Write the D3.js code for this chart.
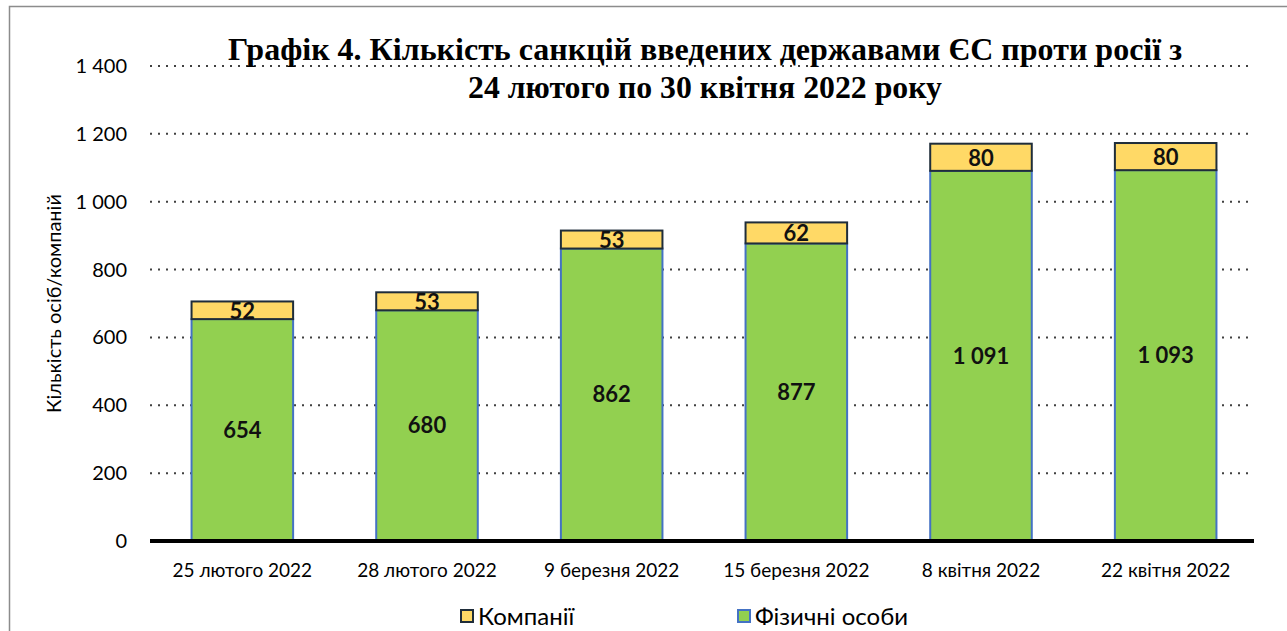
<!DOCTYPE html>
<html>
<head>
<meta charset="utf-8">
<script src="https://cdn.jsdelivr.net/npm/d3@7"></script>
<style>
  body { margin: 0; background: #fff; }
  #chart { width: 1287px; height: 631px; }
</style>
</head>
<body>
<div id="chart"></div>
<script>
//Дані
const dates = ['25 лютого 2022', '28 лютого 2022', '9 березня 2022', '15 березня 2022', '8 квітня 2022', '22 квітня 2022'];
const persons = [654, 680, 862, 877, 1091, 1093];
const companies = [52, 53, 53, 62, 80, 80];
const yTicks = [0, 200, 400, 600, 800, 1000, 1200, 1400];
const titleLines = ['Графік 4. Кількість санкцій введених державами ЄС проти росії з', '24 лютого по 30 квітня 2022 року'];
const seriesNames = ['Компанії', 'Фізичні особи'];

//Кольори
const COLOR_GREEN = '#92D050', COLOR_YELLOW = '#FFD966',
  STROKE_GREEN = '#4472C4', STROKE_YELLOW = '#1F2D3A';

const W = 1287, H = 631;
const margin = {top: 66, right: 29, bottom: 90, left: 150};
const width = W - margin.left - margin.right,
  height = H - margin.top - margin.bottom;

const fmt = v => d3.format(',')(v).replace(/,/g, ' ');

const svgRoot = d3.select('#chart').append('svg')
  .attr('width', W).attr('height', H);

//Рамка
svgRoot.append('path')
  .attr('d', 'M9.5,' + H + ' V6.5 H' + W)
  .attr('fill', 'none').attr('stroke', '#8c8c8c').attr('stroke-width', 1.5);

const svg = svgRoot.append('g')
  .attr('transform', 'translate(' + margin.left + ',' + margin.top + ')');

const x = d3.scaleBand().domain(dates).range([0, width]).paddingInner(0.45).paddingOuter(0.225);
const y = d3.scaleLinear().domain([0, 1400]).range([height, 0]);

//Сітка
svg.append('g').selectAll('line')
  .data(yTicks.filter(d => d > 0))
  .join('line')
  .attr('x1', 0).attr('x2', width - 4)
  .attr('y1', d => y(d)).attr('y2', d => y(d))
  .attr('stroke', '#404040').attr('stroke-width', 2)
  .attr('stroke-dasharray', '2,6');

//Вісь Y
svg.append('g').selectAll('text')
  .data(yTicks).join('text')
  .attr('x', -23).attr('y', d => y(d))
  .attr('dy', '0.35em').attr('text-anchor', 'end')
  .attr('font-family', 'Lato, sans-serif').attr('font-size', 20)
  .text(d => fmt(d));

svgRoot.append('text')
  .attr('transform', 'translate(61,' + (margin.top + y(700)) + ') rotate(-90)')
  .attr('text-anchor', 'middle')
  .attr('font-family', 'Lato, sans-serif').attr('font-size', 20)
  .text('Кількість осіб/компаній');

//Стовпці
const stackData = dates.map((d, i) => ({date: d, p: persons[i], c: companies[i]}));
const bars = svg.append('g').selectAll('g').data(stackData).join('g');

bars.append('rect')
  .attr('x', d => x(d.date)).attr('width', x.bandwidth())
  .attr('y', d => y(d.p)).attr('height', d => y(0) - y(d.p))
  .attr('fill', COLOR_GREEN).attr('stroke', STROKE_GREEN).attr('stroke-width', 2);

bars.append('rect')
  .attr('x', d => x(d.date)).attr('width', x.bandwidth())
  .attr('y', d => y(d.p + d.c)).attr('height', d => y(d.p) - y(d.p + d.c))
  .attr('fill', COLOR_YELLOW).attr('stroke', STROKE_YELLOW).attr('stroke-width', 2);

bars.append('text')
  .attr('x', d => x(d.date) + x.bandwidth() / 2)
  .attr('y', d => y(d.p / 2))
  .attr('dy', '0.35em').attr('text-anchor', 'middle')
  .attr('font-family', 'Lato, sans-serif').attr('font-weight', 'bold').attr('font-size', 22)
  .attr('fill', '#111').text(d => fmt(d.p));

bars.append('text')
  .attr('x', d => x(d.date) + x.bandwidth() / 2)
  .attr('y', d => y(d.p + d.c / 2))
  .attr('dy', '0.38em').attr('text-anchor', 'middle')
  .attr('font-family', 'Lato, sans-serif').attr('font-weight', 'bold').attr('font-size', 22)
  .attr('fill', '#111').text(d => fmt(d.c));

//Вісь X
svg.append('line')
  .attr('x1', 0).attr('x2', width - 4)
  .attr('y1', y(0)).attr('y2', y(0))
  .attr('stroke', '#000').attr('stroke-width', 4);

svg.append('g').selectAll('text')
  .data(dates).join('text')
  .attr('x', d => x(d) + x.bandwidth() / 2)
  .attr('y', y(0) + 36)
  .attr('text-anchor', 'middle')
  .attr('font-family', 'Lato, sans-serif').attr('font-size', 19)
  .text(d => d);

//Заголовок
svgRoot.append('g').selectAll('text')
  .data(titleLines).join('text')
  .attr('x', 705).attr('y', (d, i) => 60 + i * 38)
  .attr('text-anchor', 'middle')
  .attr('font-family', '"Liberation Serif", "Times New Roman", serif')
  .attr('font-weight', 'bold').attr('font-size', 31)
  .attr('textLength', (d, i) => [954, 474][i])
  .attr('lengthAdjust', 'spacingAndGlyphs')
  .text(d => d);

//Легенда
const legend = svgRoot.append('g').selectAll('g')
  .data(seriesNames).join('g')
  .attr('transform', (d, i) => 'translate(' + [461, 738][i] + ',610)');

legend.append('rect')
  .attr('width', 12).attr('height', 12)
  .attr('fill', (d, i) => [COLOR_YELLOW, COLOR_GREEN][i])
  .attr('stroke', (d, i) => [STROKE_YELLOW, STROKE_GREEN][i]).attr('stroke-width', 2);

legend.append('text')
  .attr('x', 17).attr('y', 6).attr('dy', '0.38em')
  .attr('font-family', 'Lato, sans-serif').attr('font-size', 24)
  .text(d => d);
</script>
</body>
</html>
